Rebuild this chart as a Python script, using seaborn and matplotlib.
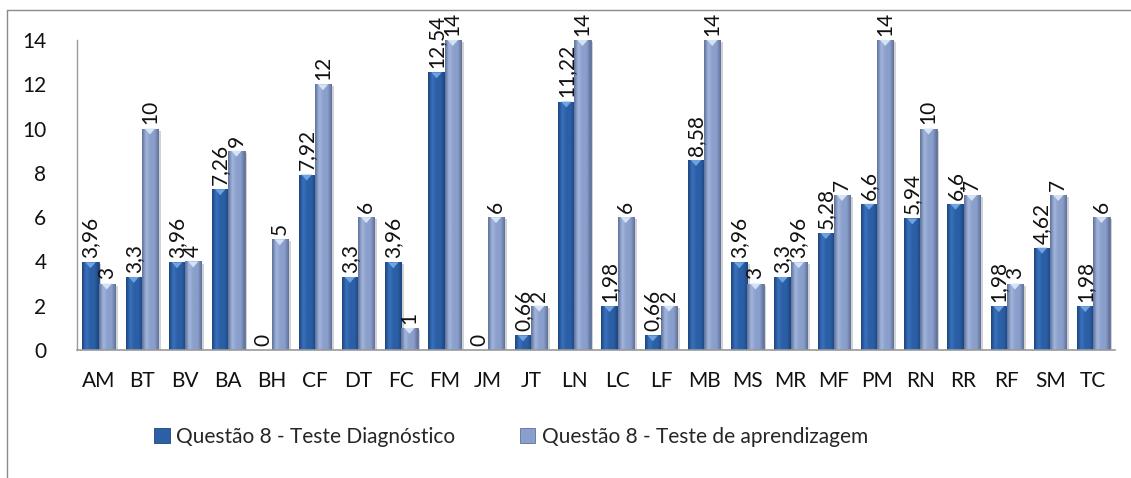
import numpy as np
import pandas as pd
import matplotlib
matplotlib.use("Agg")
import matplotlib.pyplot as plt
import seaborn as sns
from matplotlib.lines import Line2D
from matplotlib.patches import Polygon
from matplotlib.colors import LinearSegmentedColormap
import matplotlib.patheffects as pe

categories = ["AM", "BT", "BV", "BA", "BH", "CF", "DT", "FC", "FM", "JM", "JT", "LN",
              "LC", "LF", "MB", "MS", "MR", "MF", "PM", "RN", "RR", "RF", "SM", "TC"]
diagnostico = [3.96, 3.3, 3.96, 7.26, 0, 7.92, 3.3, 3.96, 12.54, 0, 0.66, 11.22,
               1.98, 0.66, 8.58, 3.96, 3.3, 5.28, 6.6, 5.94, 6.6, 1.98, 4.62, 1.98]
aprendizagem = [3, 10, 4, 9, 5, 12, 6, 1, 14, 6, 2, 14,
                6, 2, 14, 3, 3.96, 7, 14, 10, 7, 3, 7, 6]
series_names = ["Questão 8 - Teste Diagnóstico", "Questão 8 - Teste de aprendizagem"]
y_ticks = [0, 2, 4, 6, 8, 10, 12, 14]

df = pd.DataFrame({
    "cat": categories * 2,
    "valor": diagnostico + aprendizagem,
    "serie": [series_names[0]] * len(categories) + [series_names[1]] * len(categories),
})

sns.set_theme(style="white")
plt.rcParams["font.family"] = ["Lato", "DejaVu Sans"]

FS = 15

base_colors = ["#2B5FA6", "#8A9FCB"]
edge_dark = ["#1C447C", "#5E7099"]
center_light = ["#3A72BE", "#A3B6DD"]
tri_colors = ["#6FA3E0", "#D4E2F6"]

fig = plt.figure(figsize=(11.31, 4.78), dpi=100)
ax = fig.add_axes([77 / 1131, 1 - 350 / 478, (1115 - 77) / 1131, 310 / 478])

sns.barplot(data=df, x="cat", y="valor", hue="serie", palette=base_colors,
            width=0.75, gap=0, ax=ax, saturation=1, legend=True)

ax.set_ylim(0, 14)
ax.set_xlim(-0.5, len(categories) - 0.5)
ax.set_yticks(y_ticks)
ax.set_xlabel("")
ax.set_ylabel("")
ax.tick_params(axis="y", labelsize=FS, pad=22, length=0, labelcolor="#111111")
ax.tick_params(axis="x", labelsize=FS, pad=15, length=0, labelcolor="#111111")
for s in ["top", "right"]:
    ax.spines[s].set_visible(False)
ax.spines["left"].set_color("#9a9a9a")
ax.spines["bottom"].set_color("#9a9a9a")
ax.spines["left"].set_linewidth(1.0)
ax.spines["bottom"].set_linewidth(1.2)


def make_cmap(i):
    return LinearSegmentedColormap.from_list(
        f"bevel{i}",
        [edge_dark[i], center_light[i], base_colors[i], base_colors[i], edge_dark[i]])


grad = np.linspace(0, 1, 64).reshape(1, -1)
for i, container in enumerate(ax.containers):
    cmap = make_cmap(i)
    for bar in container:
        h = bar.get_height()
        if h <= 0:
            continue
        x0, w = bar.get_x(), bar.get_width()
        bar.set_edgecolor(edge_dark[i])
        bar.set_linewidth(0.6)
        bar.set_path_effects([pe.SimplePatchShadow(offset=(2, -1.5), shadow_rgbFace="#808080", alpha=0.35),
                              pe.Normal()])
        im = ax.imshow(grad, extent=(x0, x0 + w, 0, h), aspect="auto", cmap=cmap,
                       zorder=bar.get_zorder() + 0.1, interpolation="bicubic")
        im.set_clip_path(bar)
        # bevel highlight on the bar top
        th = 14 * 6 / 310
        tri = Polygon([[x0 + 0.18 * w, h], [x0 + 0.82 * w, h], [x0 + 0.5 * w, h - th]],
                      closed=True, facecolor=tri_colors[i], edgecolor="none",
                      zorder=bar.get_zorder() + 0.2)
        ax.add_patch(tri)


def fmt(v):
    return f"{v:g}".replace(".", ",")


for i, container in enumerate(ax.containers):
    vals = diagnostico if i == 0 else aprendizagem
    ax.bar_label(container, labels=[fmt(v) for v in vals], rotation=90,
                 padding=3, fontsize=FS, color="#111111")

handles, labels = ax.get_legend_handles_labels()
ax.get_legend().remove()
leg = fig.legend(handles, labels, loc="center", bbox_to_anchor=(511 / 1131, 1 - 437 / 478),
                 ncol=2, frameon=False, fontsize=FS, handlelength=0.75, handleheight=0.75,
                 handletextpad=0.3, columnspacing=3.1)
for hnd, c in zip(leg.legend_handles, edge_dark):
    hnd.set_edgecolor(c)
    hnd.set_linewidth(0.6)

# chart area frame
fig.add_artist(Line2D([7 / 1131, 7 / 1131], [0, 1 - 10 / 478], transform=fig.transFigure,
                      color="#8a8a8a", linewidth=1.0))
fig.add_artist(Line2D([7 / 1131, 1], [1 - 10 / 478, 1 - 10 / 478], transform=fig.transFigure,
                      color="#8a8a8a", linewidth=1.0))

fig.savefig("out.png", dpi=100)
